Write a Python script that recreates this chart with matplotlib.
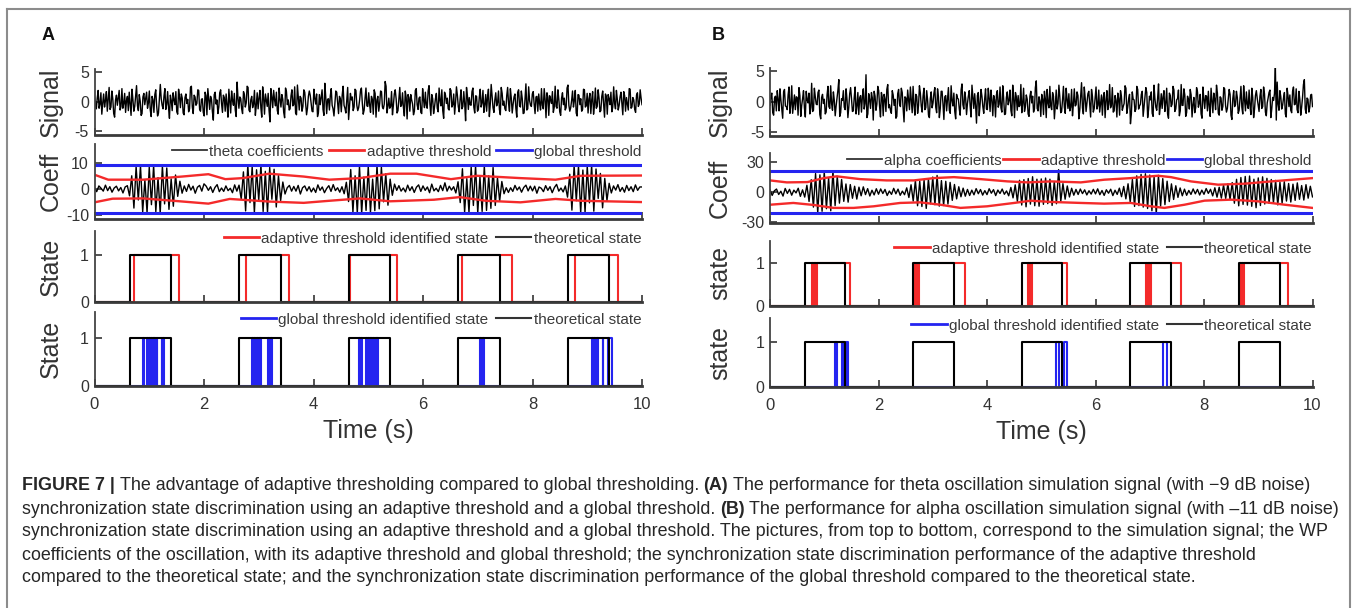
import numpy as np
import matplotlib
matplotlib.use("Agg")
import matplotlib.pyplot as plt
from matplotlib.lines import Line2D

plt.rcParams['font.family'] = ['Liberation Sans', 'DejaVu Sans']
plt.rcParams['axes.unicode_minus'] = False

# ---------------- data ----------------
# panel A: theta simulation signal (-9 dB noise), 10 s, stored as two interleaved sample sets
sig_a_even = [
    0.8, -1.2, 1.9, -0.4, -2.1, 1.3, 0.2, -1.6, 2.4, -0.9, 0.5, -2.6, 1.1, 0.7, -1.4, 2.2, -0.3, -1.8, 0.9, 1.6, -2.3, 0.4, -0.8, 2.7, -1.5, 0.1, -2.0, 1.4, 0.6, -1.1,
    1.8, -2.5, 0.3, 1.2, -0.7, -1.9, 2.9, -0.6, 0.9, -1.3, 1.7, -2.8, 0.2, 1.5, -0.5, -1.7, 2.1, -1.0, 0.6, -2.2, 1.3, 0.4, -1.2, 2.6, -2.0, 0.8, -0.3, 1.9, -1.6, 0.5,
    -2.4, 1.0, 2.2, -1.3, 0.4, -3.1, 1.6, 0.3, -0.9, 2.0, -1.8, 0.7, 1.3, -2.6, 0.1, 1.8, -0.6, -1.4, 3.3, -1.1, 0.5, -2.0, 1.2, -0.2, 2.4, -1.7, 0.9, -0.4, -2.3, 1.5,
    0.6, -1.0, 2.5, -2.1, 0.2, 1.4, -3.4, 0.8, 1.9, -0.7, -1.5, 2.3, -0.9, 0.4, -2.7, 1.7, 0.3, -1.2, 2.0, -0.5, -1.9, 2.8, -1.4, 0.6, -0.8, 1.6, -2.2, 0.9, 1.1, -1.6,
    2.1, -0.4, -2.5, 1.2, 0.7, -1.3, 3.1, -2.0, 0.5, 1.0, -0.6, -2.4, 1.8, -0.2, 0.9, -1.7, 2.6, -1.1, 0.3, -3.0, 1.4, 0.8, -0.9, 1.9, -1.5, 0.2, 2.3, -2.1, 0.6, -0.7,
    1.5, -1.8, 0.4, 2.0, -2.6, 0.9, -0.3, 1.7, -1.2, 3.4, -1.9, 0.6, -0.8, -2.2, 1.3, 0.5, -1.5, 2.4, -0.6, -1.0, 1.8, -2.9, 0.7, 1.2, -0.4, -1.6, 2.2, -1.3, 0.8, -2.0,
    0.3, 1.6, -1.1, 2.7, -2.3, 0.5, -0.9, 1.4, -1.7, 0.2, 2.0, -2.8, 1.1, 0.6, -1.4, 1.9, -0.5, -2.1, 2.5, -0.8, 0.4, -1.2, 1.7, -3.2, 1.0, 0.7, -0.6, 2.3, -1.9, 0.9,
    -1.3, 2.1, -0.2, -1.8, 1.2, 0.8, -2.5, 2.9, -1.0, 0.3, -0.7, 1.8, -2.2, 1.4, 0.1, -1.5, 2.4, -1.6, 0.6, -0.4, 1.3, -2.6, 2.0, -0.9, 0.5, -1.9, 3.0, -1.2, 0.2, -0.8,
    1.7, -2.0, 0.9, 1.3, -1.4, -0.6, 2.2, -2.7, 0.8, 1.0, -0.3, -1.8, 2.6, -1.1, 0.4, -2.3, 1.5, 0.6, -1.0, 2.8, -1.6, 0.2, -0.9, 1.9, -2.4, 1.1, 0.5, -1.3, 2.0, -0.7,
    -1.9, 1.4, 0.3, -2.1, 2.3, -0.8, 0.6, -1.5, 1.8, -2.6, 0.9, 1.2, -0.5, -1.7, 2.5, -1.2, 0.4, -0.6, 1.6, -2.2, 1.0, 0.7, -1.4, 2.1, -0.9, 0.3, -1.8, 1.5, -0.4, 0.6,
]
sig_a_odd = [
    -0.3, 0.6, -1.1, 1.5, -0.2, -0.9, 1.7, 0.4, -1.3, 1.8, -2.0, 0.3, -0.6, 1.9, -0.8, -1.1, 1.4, 0.2, -1.5, -0.4, 2.1, -1.6, 0.9, -0.7, 1.2, -2.3, 0.8, -0.5, 1.6, -0.2,
    -1.4, 0.9, -1.8, 2.0, -2.4, 0.6, 0.5, -1.2, 2.2, -0.4, -1.0, 1.1, -1.5, 0.3, 1.7, -2.1, 0.8, 1.3, -1.9, 0.7, -0.3, -1.7, 2.4, -0.9, 1.1, -0.6, 2.0, -1.3, 0.4, -1.8,
    1.6, -2.2, 0.5, 0.9, -1.7, 1.2, -0.4, -2.0, 1.5, -0.3, 1.1, -1.6, -0.5, 2.1, -1.9, 0.2, 1.4, -2.5, 0.6, 0.8, -1.2, 1.7, -0.9, 2.6, -1.4, 0.3, -1.0, 1.9, -0.6, -1.2,
    1.9, -2.6, 0.7, 1.3, -0.8, -1.5, 2.2, -1.0, 0.3, 1.6, -2.1, 0.4, 1.2, -1.8, 2.3, -0.5, -1.4, 1.0, -0.7, 2.5, -2.2, 0.6, 0.9, -1.6, 2.0, -0.4, -1.1, 1.8, -0.3, -1.7,
    0.6, 1.3, -1.8, -0.5, 2.0, -2.3, 0.8, 0.4, -1.4, 2.2, -1.2, -0.3, 1.6, -2.0, 0.5, 1.1, -0.6, -1.9, 2.4, -0.9, 0.3, -1.5, 2.1, -0.6, -1.0, 1.8, -0.2, -1.4, 2.3, -0.8,
    -0.5, 0.9, -2.1, 1.4, 0.3, -1.6, 1.8, -0.9, -0.4, 2.6, -0.8, -1.1, 1.7, -0.6, 2.0, -1.9, 0.4, -0.8, 1.5, -2.4, 0.7, 1.2, -1.6, 0.3, -2.2, 1.9, -0.5, 0.6, -1.8, 2.2,
    -1.0, -0.6, 1.8, -0.4, 1.2, -2.0, 0.5, -1.1, 2.3, -0.7, -1.5, 1.6, -0.3, -1.2, 2.2, -0.9, 1.3, -0.2, 1.1, -1.7, 2.0, -0.8, -0.3, 2.4, -1.3, -0.5, 1.7, -0.9, 1.0, -1.6,
    0.7, -0.9, 1.9, -0.5, -1.6, 2.1, -0.4, 0.9, -1.8, 1.5, -0.2, -1.3, 2.4, -0.6, -1.2, 1.0, -0.3, 2.2, -1.9, 0.8, -1.1, 1.6, -0.7, 1.8, -2.0, 0.4, -1.4, 2.5, -0.6, 1.3,
    -0.4, 0.8, -1.6, -0.3, 2.2, -1.2, 0.4, 1.5, -2.3, 0.3, 1.7, -0.9, -0.8, 2.0, -1.7, 0.6, -0.5, -1.4, 2.3, -0.6, -1.0, 1.8, 0.2, -1.9, 1.2, -0.5, -1.6, 2.1, -0.9, 1.4,
    0.5, -2.0, 1.7, -0.6, -1.1, 2.0, -1.7, 0.9, -0.4, 1.3, -2.1, 0.5, 1.6, -0.9, -0.3, 1.9, -1.4, 0.8, -0.2, 1.7, -1.6, -0.3, 2.2, -1.1, 0.7, -1.3, 1.1, -0.8, 2.0, -0.5,
]

# panel B: alpha simulation signal (-11 dB noise), 10 s
sig_b_even = [
    -0.6, 1.4, -2.2, 0.9, 1.8, -1.5, 0.3, -2.7, 2.0, -0.8, 1.1, -1.9, 2.6, -0.4, -1.3, 0.7, 2.3, -2.4, 0.5, -1.0, 1.7, -0.2, -2.0, 3.0, -1.4, 0.8, -0.5, 1.9, -2.8, 1.2,
    0.4, -1.7, 2.5, -1.1, -0.3, 1.6, -2.3, 0.6, 3.6, -1.8, 0.2, -0.9, 2.1, -2.6, 1.3, 0.5, -1.5, 2.4, -0.7, -2.1, 1.0, 0.8, -1.2, 4.4, -2.0, 0.3, 1.5, -3.0, 0.9, -0.4,
    1.8, -2.5, 0.7, 1.2, -1.6, 2.8, -0.5, -1.9, 1.1, 0.4, -2.4, 2.0, -0.8, 1.5, -3.3, 0.6, 1.9, -1.3, 0.2, 2.5, -2.2, 0.9, -0.6, 1.4, -1.7, 2.2, -1.0, 0.3, -2.6, 1.6,
    -0.2, 2.3, -1.8, 0.8, -1.1, 1.7, -2.9, 1.0, 0.5, -1.4, 2.6, -0.7, -1.6, 1.2, 0.4, -2.2, 2.9, -1.2, 0.6, -0.3, 1.8, -2.5, 0.7, 1.3, -3.5, 1.5, -0.4, 0.9, -1.9, 2.1,
    -1.3, 0.6, 1.9, -2.3, 0.3, 1.1, -0.9, 2.4, -1.7, 0.5, -2.0, 1.6, 0.2, -1.4, 2.7, -2.6, 0.8, 1.0, -0.6, -1.8, 2.2, -0.8, 0.4, -2.4, 1.7, 0.9, -1.2, 3.4, -1.5, 0.1,
    1.2, -2.1, 0.5, 2.0, -1.0, -0.7, 1.5, -2.8, 1.9, -0.3, 0.8, -1.6, 2.5, -1.9, 0.4, 1.3, -0.9, -2.3, 2.1, -0.5, 1.0, -1.4, 3.1, -2.0, 0.6, -0.2, 1.7, -2.5, 0.9, -1.1,
    2.4, -0.6, -1.7, 1.1, 0.7, -2.6, 1.8, -0.4, -1.0, 2.3, -1.5, 0.2, 1.4, -2.2, 0.9, -0.8, 2.6, -1.9, 0.5, -3.6, 1.6, 0.3, -1.2, 2.0, -0.7, 1.2, -2.4, 0.8, 1.5, -1.3,
    0.3, -1.9, 2.7, -0.9, 0.6, -2.1, 1.3, 0.8, -1.6, 2.2, -2.7, 1.0, -0.4, 1.9, -1.2, 0.5, -2.3, 2.8, -0.6, 1.1, -1.8, 0.4, 2.0, -2.5, 0.7, -1.0, 1.6, -0.3, -2.0, 2.4,
    -1.1, 0.9, 1.7, -2.4, 0.2, 1.4, -1.3, 1.4, -2.2, 0.6, -0.8, 2.1, -1.7, 0.4, 1.2, -2.9, 1.8, -0.5, 0.7, -1.4, 2.5, -2.0, 0.3, 1.6, -1.1, -0.7, 2.2, -2.6, 1.0, 0.5,
    -1.6, 2.0, -0.8, 1.3, -2.3, 0.6, 1.9, -1.2, 0.2, 5.6, 3.2, -1.4, 0.8, -0.6, 1.5, -2.5, 0.9, 1.1, -1.8, 2.4, -0.4, -1.3, 1.7, -2.2, 0.7, 3.6, -1.9, 0.4, -0.9, 1.2,
]
sig_b_odd = [
    0.9, -1.8, 0.6, -1.5, 0.4, 2.1, -1.2, 1.6, -0.7, -1.3, 2.4, -0.5, -1.9, 1.1, 0.8, -2.2, 1.0, -0.6, 1.8, -2.5, 0.3, 1.4, -0.9, -1.6, 2.2, -0.4, 1.5, -2.1, 0.7, -0.3,
    -2.0, 1.1, -0.8, 2.6, -1.4, 0.2, -0.7, 1.9, -2.4, 0.5, 1.8, -1.3, 0.4, -0.9, 2.3, -1.6, 0.7, -2.0, 1.5, 0.6, -1.7, 2.1, -0.3, -2.6, 1.3, -1.1, 0.6, 1.7, -1.4, 2.5,
    -0.8, 1.5, -2.3, 0.4, 2.0, -1.0, -1.4, 1.8, -0.6, -2.7, 1.3, -0.4, 2.2, -1.1, 0.8, -1.5, 0.3, 2.4, -1.8, -0.5, 1.2, -1.9, 2.6, -0.7, 0.9, -1.3, 1.8, -2.2, 0.5, -1.0,
    1.4, -0.9, 2.1, -2.6, 1.7, -0.4, 0.8, -1.5, 2.3, -1.9, 0.2, 1.4, -2.8, 0.6, -1.2, 1.9, -0.5, 1.6, -2.1, 0.9, -0.7, 2.7, -1.1, -0.6, 1.0, -2.3, 2.0, -0.8, 0.4, -1.2,
    2.2, -1.6, 0.3, 1.0, -2.5, 1.8, -0.4, -1.0, 2.6, -2.1, 0.7, -0.5, 1.9, -2.3, 0.6, 1.5, -1.4, -0.8, 2.8, -0.3, -1.6, 1.1, -2.0, 0.9, -0.2, -1.7, 2.3, -1.1, 0.8, -2.4,
    0.4, 1.7, -2.6, -0.2, 2.5, -1.3, 0.9, -0.6, -1.2, 2.7, -1.8, 0.3, -0.9, 2.2, -1.1, -1.5, 2.0, -0.4, -0.7, 1.6, -2.8, 0.8, -1.0, 2.4, -1.6, 1.3, -0.5, 2.0, -1.7, 0.6,
    -1.2, 1.9, -0.3, -2.2, 1.5, 0.2, -1.3, 2.8, -0.6, -1.7, 1.0, -2.5, 0.5, 1.8, -1.4, -0.3, 2.2, -0.9, 1.2, -2.0, 0.4, -1.6, 2.5, -1.2, -0.4, 1.7, -0.8, 2.3, -2.6, 0.9,
    1.6, -2.4, 0.5, -1.4, 2.9, -0.7, -1.1, 1.8, -0.2, -2.0, 1.4, -0.8, 2.5, -1.6, 0.3, 1.9, -1.5, -0.6, 2.1, -2.4, 0.9, -1.2, 1.1, -0.5, -1.8, 2.3, -0.9, 1.2, -2.7, 0.5,
    1.0, -1.5, -0.7, 2.2, -1.8, 0.4, 2.7, -1.9, 0.8, -1.4, 2.3, -0.6, -1.1, 2.0, -2.2, 0.5, -0.8, 1.7, -1.9, 0.6, -0.9, 2.6, -1.5, -0.4, 1.9, -2.1, 0.7, -1.2, 1.8, -0.6,
    0.9, -1.1, 2.4, -1.7, -0.2, 1.5, -2.6, 0.7, 1.3, -3.0, -0.4, 1.8, -1.2, 0.6, -2.0, 2.2, -0.8, -1.4, 1.7, -0.5, 2.1, -1.8, 0.4, -0.9, 2.8, -1.2, 0.6, -1.7, 1.1, -0.8,
]

# theta wavelet-packet coefficients, 0.04 s step (251 samples)
coef_a = [
    0.5, -1.0, 1.2, 0.3, -0.8, 1.5, -0.6, 0.9, -1.2, 0.4, 1.1, -0.7, 0.6, -1.5, 0.8, 1.3, -2.6, 5.1, -7.3, 8.6, -4.2, 9.0, -8.8, 3.5, -9.1,
    8.4, -6.0, 9.2, -8.7, 4.4, -9.3, 8.9, -5.7, 8.1, -7.8, 3.9, -6.6, 5.4, -2.8, 3.0, -1.6, 1.2, -0.9, 1.8, -0.4, 1.1, -1.6, 0.7, 1.4, -0.8,
    2.0, 1.1, -0.5, 0.9, -1.3, 0.6, 1.7, -1.0, 0.4, -0.9, 1.2, -0.6, 0.3, -1.4, 1.6, -0.8, 1.5, -3.9, 6.6, -8.4, 9.3, -5.2, 8.7, -9.1, 7.4,
    -4.3, 9.4, -8.6, 6.8, -9.0, 8.3, -3.9, 7.6, -6.9, 5.2, -4.4, 2.7, -1.9, 0.5, 1.4, -0.8, 1.0, -0.8, 1.4, -1.9, 0.5, 1.2, -0.7, 0.9, -1.1,
    0.4, -1.3, 1.6, -0.5, 0.8, -1.4, 0.2, 1.3, -0.9, 1.7, -0.6, 0.5, -1.2, 0.9, -1.8, 2.6, -4.8, 7.5, -8.9, 5.1, -9.2, 8.8, -9.3, 4.6, -8.2,
    8.7, -9.0, 3.8, -8.3, 9.1, -7.6, 8.4, -4.9, 5.9, -6.2, 3.8, -2.4, 1.9, -0.5, 1.3, -0.8, 0.4, -1.1, 1.5, -0.6, 0.9, -1.3, 0.7, 1.6, -0.9,
    1.2, -0.5, 0.8, -1.4, 1.9, -0.7, 0.3, -1.0, 1.4, -0.6, 2.4, -0.8, 1.1, -0.4, 0.9, -1.5, 2.8, -5.2, 7.8, -8.9, 4.0, -9.1, 8.6, -6.3, 9.0,
    -9.2, 4.7, -8.6, 9.0, -8.2, 5.1, -7.4, 8.3, -6.3, 4.4, -4.6, 2.9, -1.8, 0.5, -1.3, 0.5, -0.9, 1.4, -0.4, 0.8, -1.2, 0.6, 1.5, -0.7, 1.1,
    -0.7, 1.1, -1.6, 0.8, 0.3, -1.0, 1.3, -0.5, 0.9, -1.4, 0.6, 1.8, -0.8, 0.4, -1.1, 1.2, -3.1, 5.7, -8.1, 9.0, -4.5, 8.8, -9.2, 7.3, -9.0,
    8.8, -5.3, 9.1, -8.5, 7.7, -3.6, 6.0, -7.2, 4.1, -4.4, 2.2, -1.5, 1.2, -0.4, 1.7, -0.9, 0.6, -1.2, 1.4, -0.6, 0.9, -1.0, 1.6, -0.5, 0.8,
    0.8,
]

# alpha wavelet-packet coefficients, 0.04 s step (251 samples)
coef_b = [
    2.1, -3.4, 1.2, 3.0, -2.5, 0.8, -4.1, 3.6, -1.4, 2.7, -3.2, 1.9, -0.9, 3.8, -4.4, 2.2, -5.1, 6.8, -9.5, 12.4, -15.2, 18.6, -21.0, 17.3, -19.4,
    20.5, -16.8, 14.2, -18.9, 21.4, -13.7, 15.8, -11.2, 12.6, -9.4, 8.1, -10.2, 7.5, -6.3, 5.8, -7.1, 4.9, -3.8, 5.2, -2.6, 3.4, -4.0, 1.8, -2.9, 3.3,
    -2.2, 3.1, -1.5, 2.6, -3.5, 1.0, -2.4, 3.7, -1.8, 2.9, -3.3, 0.9, -2.7, 4.2, -5.5, 7.3, -9.1, 11.6, -13.8, 10.9, -14.6, 12.2, -16.5, 13.4, -11.9,
    15.1, -12.8, 16.7, -14.2, 11.5, -13.6, 10.8, -12.1, 9.7, -8.4, 7.6, -6.9, 5.3, -4.8, 3.9, -4.2, 2.6, -3.5, 1.9, -2.8, 3.4, -1.7, 2.5, -3.1, 1.4,
    -2.6, 3.3, -1.2, 2.4, -3.6, 2.0, -1.5, 3.0, -2.3, 1.1, -3.8, 4.6, -5.9, 7.2, -9.4, 11.8, -13.1, 12.5, -14.9, 13.6, -12.2, 15.4, -13.8, 12.9, -14.3,
    13.2, -12.4, 14.1, -11.7, 12.9, -13.5, 10.6, -11.8, 22.5, -9.3, 8.4, -7.2, 6.1, -5.0, 3.8, -3.2, 2.6, -2.5, 3.0, -1.6, 2.2, -2.9, 1.3, -2.1, 2.7,
    -1.9, 3.2, -2.7, 1.5, -3.4, 2.3, -1.2, 2.8, -3.6, 1.8, -2.4, 3.9, -4.7, 5.6, -6.9, 8.3, -10.2, 12.6, -14.5, 16.3, -13.7, 17.8, -15.2, 18.4, -16.6,
    17.1, -18.9, 15.4, -22.3, 16.8, -14.1, 13.5, -12.7, 10.9, -9.6, 8.2, -7.5, 6.3, -5.4, 4.1, -3.8, 2.9, -3.3, 1.6, -2.4, 3.1, -1.8, 2.6, -3.0, 1.9,
    -2.3, 3.5, -1.4, 2.7, -3.9, 4.3, -5.2, 4.8, -6.1, 7.0, -6.4, 8.2, -7.6, 9.5, -11.3, 12.8, -13.9, 14.6, -12.5, 15.7, -13.2, 16.1, -14.4, 12.9, -15.8,
    14.2, -13.6, 15.3, -12.1, 13.8, -11.4, 12.6, -10.9, 11.7, -13.0, 9.8, -11.2, 10.4, -9.1, 8.6, -10.1, 7.9, -8.4, 9.2, -7.3, 6.5, -8.1, 7.4, -6.2, 5.8,
    -4.9,
]

# adaptive thresholds (upper / lower envelopes)
thr_a_up_t = [0, 0.25, 0.89, 1.6, 2.08, 2.39, 2.71, 3.19, 3.82, 4.29, 4.85, 5.4, 5.88, 6.51, 6.99, 7.78, 8.42, 8.89, 10]
thr_a_up = [5.5, 3.6, 3.6, 4.8, 5.7, 3.8, 4.2, 5.9, 4.8, 3.6, 4.2, 5.9, 5.9, 3.8, 5.1, 4.2, 3.6, 5.1, 5.2]
thr_a_lo_t = [0, 0.33, 0.89, 1.44, 2.08, 2.47, 3.19, 3.82, 4.29, 4.85, 5.4, 6.2, 6.67, 7.15, 7.78, 8.42, 8.89, 10]
thr_a_lo = [-5.1, -3.7, -3.6, -4.5, -5.6, -3.8, -4.8, -5.3, -4.5, -3.6, -4.7, -4.1, -3.1, -4.5, -5.1, -3.8, -4.5, -5.0]

thr_b_up_t = [0, 0.31, 0.69, 0.99, 1.23, 1.66, 2.15, 2.65, 3.02, 3.39, 3.88, 4.38, 4.75, 5.18, 5.73, 6.16, 6.65, 7.15, 7.39, 7.76, 8.26, 8.75, 9.24, 10]
thr_b_up = [11.7, 9.7, 10, 14, 15.8, 13, 11.7, 11.7, 14, 15, 13, 10.7, 9.7, 10.7, 9.7, 12.4, 14, 16.4, 15, 10.7, 7.4, 8.4, 10.7, 14]
thr_b_lo_t = [0, 0.43, 0.80, 1.17, 1.54, 1.91, 2.40, 2.77, 3.14, 3.51, 4.0, 4.5, 4.81, 5.18, 5.73, 6.16, 6.65, 7.02, 7.27, 7.64, 8.01, 8.5, 9.0, 9.49, 10]
thr_b_lo = [-12.8, -11, -13, -16, -16, -14.4, -11, -10.4, -12.8, -16, -14.4, -11, -8.7, -10, -11, -11.7, -11, -14.4, -16, -12.8, -8.7, -7.7, -9.4, -12.8, -16]

glob_a = 9.2
glob_b = 21.6

# state "on" intervals (s)
theory_on = [(0.64, 1.39), (2.64, 3.40), (4.64, 5.39), (6.64, 7.40), (8.64, 9.40)]
adapt_a_on = [(0.73, 1.55), (2.77, 3.56), (4.67, 5.53), (6.71, 7.62), (8.78, 9.57)]
global_a_on = [(0.89, 0.90), (0.95, 0.97), (0.99, 1.01), (1.03, 1.05), (1.07, 1.10), (1.14, 1.15), (1.23, 1.24), (1.26, 1.27),
               (2.88, 2.90), (2.92, 2.94), (2.96, 2.98), (3.00, 3.04), (3.17, 3.18), (3.23, 3.24),
               (4.83, 4.85), (4.87, 4.88), (4.95, 4.97), (4.99, 5.01), (5.03, 5.06), (5.09, 5.11), (5.14, 5.17),
               (7.04, 7.06), (7.09, 7.12),
               (9.08, 9.10), (9.12, 9.14), (9.17, 9.20), (9.28, 9.29), (9.38, 9.45)]
adapt_b_on = [(0.77, 0.80), (0.82, 0.84), (0.87, 1.48),
              (2.65, 2.67), (2.69, 2.70), (2.72, 2.73), (2.75, 3.59),
              (4.76, 4.78), (4.80, 4.81), (4.83, 5.47),
              (6.93, 6.95), (6.96, 6.98), (6.99, 7.00), (7.02, 7.58),
              (8.66, 8.68), (8.70, 8.72), (8.74, 9.54)]
global_b_on = [(1.19, 1.23), (1.32, 1.36), (1.41, 1.44), (5.27, 5.33), (5.42, 5.48), (7.24, 7.31)]

caption = [
    [("FIGURE 7 |", True), ("The advantage of adaptive thresholding compared to global thresholding.", False), ("(A)", True),
     ("The performance for theta oscillation simulation signal (with \u22129 dB noise)", False)],
    [("synchronization state discrimination using an adaptive threshold and a global threshold.", False), ("(B)", True),
     ("The performance for alpha oscillation simulation signal (with \u201311 dB noise)", False)],
    [("synchronization state discrimination using an adaptive threshold and a global threshold. The pictures, from top to bottom, correspond to the simulation signal; the WP", False)],
    [("coefficients of the oscillation, with its adaptive threshold and global threshold; the synchronization state discrimination performance of the adaptive threshold", False)],
    [("compared to the theoretical state; and the synchronization state discrimination performance of the global threshold compared to the theoretical state.", False)],
]

# ---------------- drawing ----------------
W, H = 1357, 608
fig = plt.figure(figsize=(W / 100, H / 100), dpi=100)

RED = '#f42a2a'
BLUE = '#2424f0'
TXT = '#333333'


def px_axes(l, t, r, b):
    return fig.add_axes([l / W, 1 - b / H, (r - l) / W, (b - t) / H])


def steps(intervals):
    xs, ys = [0.0], [0.0]
    for a, b in intervals:
        xs += [a, a, b, b]
        ys += [0, 1, 1, 0]
    xs.append(10.0)
    ys.append(0.0)
    return xs, ys


def style(ax, ylim, yticks, label, lab_x, bottom=False):
    ax.set_xlim(0, 10)
    ax.set_ylim(*ylim)
    ax.set_yticks(yticks)
    ax.set_xticks(range(0, 11, 2))
    ax.patch.set_alpha(0)
    for s in ('top', 'right'):
        ax.spines[s].set_visible(False)
    ax.spines['left'].set_linewidth(1.3)
    ax.spines['left'].set_color('#444444')
    ax.spines['bottom'].set_linewidth(2.0)
    ax.spines['bottom'].set_color('#3a3a3a')
    ax.tick_params(direction='in', length=5, width=1.3, color='#444444',
                   labelsize=11.5, labelcolor=TXT, pad=4)
    if not bottom:
        ax.tick_params(axis='x', labelbottom=False)
    else:
        ax.tick_params(axis='x', labelsize=12, pad=8)
        ax.set_xlabel('Time (s)', fontsize=18, color=TXT, labelpad=5)
    ax.set_ylabel(label, fontsize=18, color=TXT, va='center')
    ax.yaxis.set_label_coords(lab_x, 0.5)


def leg(ax, handles, labels, cs=0.35):
    ax.legend(handles, labels, loc='upper right', ncol=len(labels), frameon=False,
              fontsize=11, handlelength=2.3, handletextpad=0.15, columnspacing=cs,
              borderaxespad=0.0, borderpad=0.05, labelcolor='#3a3a3a')


def panel(left, right, rows, sig_even, sig_odd, coef, coef_name, up_t, up, lo_t, lo, glob,
          coef_lim, coef_ticks, adapt_on, global_on, st_label, lab_px, cs):
    lab_x = (lab_px - left) / (right - left)
    ax1 = px_axes(left, rows[0][0], right, rows[0][1])
    ax2 = px_axes(left, rows[1][0], right, rows[1][1])
    ax3 = px_axes(left, rows[2][0], right, rows[2][1])
    ax4 = px_axes(left, rows[3][0], right, rows[3][1])

    sig = np.column_stack([sig_even, sig_odd]).ravel()
    t_sig = np.linspace(0, 10, len(sig))
    ax1.plot(t_sig, sig, color='black', lw=1.0)
    style(ax1, (-5.6, 5.5), [-5, 0, 5], 'Signal', lab_x)

    t_coef = np.linspace(0, 10, len(coef))
    ax2.plot(t_coef, coef, color='black', lw=1.0)
    ax2.plot(up_t, up, color=RED, lw=1.7)
    ax2.plot(lo_t, lo, color=RED, lw=1.7)
    ax2.axhline(glob, color=BLUE, lw=2.2)
    ax2.axhline(-glob, color=BLUE, lw=2.2)
    style(ax2, coef_lim, coef_ticks, 'Coeff', lab_x)
    leg(ax2, [Line2D([], [], color='#333333', lw=1.3), Line2D([], [], color=RED, lw=2), Line2D([], [], color=BLUE, lw=2)],
        [coef_name, 'adaptive threshold', 'global threshold'], cs)

    tx, ty = steps(theory_on)
    ax, ay = steps(adapt_on)
    ax3.plot(ax, ay, color=RED, lw=1.5)
    ax3.plot(tx, ty, color='black', lw=1.5)
    style(ax3, (-0.01, 1.53), [0, 1], st_label, lab_x)
    leg(ax3, [Line2D([], [], color=RED, lw=2), Line2D([], [], color='#333333', lw=1.5)],
        ['adaptive threshold identified state', 'theoretical state'], 0.5)

    gx, gy = steps(global_on)
    ax4.plot(gx, gy, color=BLUE, lw=1.5)
    ax4.plot(tx, ty, color='black', lw=1.5)
    style(ax4, (-0.01, 1.55), [0, 1], st_label, lab_x, bottom=True)
    leg(ax4, [Line2D([], [], color=BLUE, lw=2), Line2D([], [], color='#333333', lw=1.5)],
        ['global threshold identified state', 'theoretical state'], 0.5)


rows_a = [(69, 135), (144, 219), (231, 302), (312, 386)]
rows_b = [(68, 136), (153, 223), (241, 306), (318, 387)]

panel(94.5, 642, rows_a, sig_a_even, sig_a_odd, coef_a, 'theta coefficients', thr_a_up_t, thr_a_up, thr_a_lo_t, thr_a_lo,
      glob_a, (-11.5, 17.3), [-10, 0, 10], adapt_a_on, global_a_on, 'State', 51, 0.35)
panel(770, 1312.5, rows_b, sig_b_even, sig_b_odd, coef_b, 'alpha coefficients', thr_b_up_t, thr_b_up, thr_b_lo_t, thr_b_lo,
      glob_b, (-31.2, 39.3), [-30, 0, 30], adapt_b_on, global_b_on, 'state', 720, 0.1)

fig.text(42 / W, 1 - 35 / H, 'A', fontsize=13, fontweight='bold', va='center', ha='left', color='#111111')
fig.text(712 / W, 1 - 35 / H, 'B', fontsize=13, fontweight='bold', va='center', ha='left', color='#111111')

# frame around the figure block
frame_kw = dict(color='#8c8c8c', lw=1.5, transform=fig.transFigure)
fig.add_artist(Line2D([7 / W, 7 / W], [0, 1 - 9 / H], **frame_kw))
fig.add_artist(Line2D([7 / W, 1350 / W], [1 - 9 / H, 1 - 9 / H], **frame_kw))
fig.add_artist(Line2D([1350 / W, 1350 / W], [0, 1 - 9 / H], **frame_kw))

# caption, pieces placed one after another
cap_family = ['Liberation Sans', 'DejaVu Sans']
renderer = fig.canvas.get_renderer()


def draw_line(parts, x0, y, fs, draw=True):
    x = x0
    sp = fs * 0.26 * 100 / 72
    made = []
    for txt, bold in parts:
        t = fig.text(x / W, 1 - y / H, txt, fontsize=fs, fontweight='bold' if bold else 'normal',
                     family=cap_family, va='center', ha='left', color='#262626')
        made.append(t)
        x += t.get_window_extent(renderer).width + sp
    if not draw:
        for t in made:
            t.remove()
    return x - sp - x0


widest = max(draw_line(parts, 22, 486, 10, draw=False) for parts in caption)
cap_fs = 10 * (1344 - 22) / widest
for i, parts in enumerate(caption):
    draw_line(parts, 22, 486 + 23 * i, cap_fs)

fig.savefig('out.png', dpi=100)
